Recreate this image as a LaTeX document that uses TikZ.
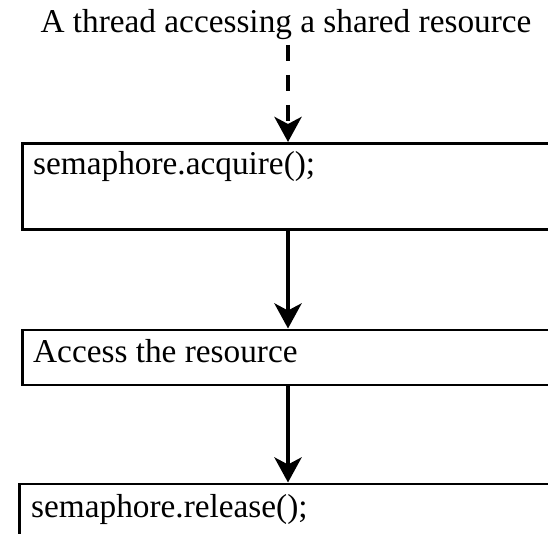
\documentclass[tikz,border=0pt]{standalone}
\usepackage{fontspec}
\setmainfont{Liberation Serif}
\usetikzlibrary{arrows.meta}
\begin{document}
\begin{tikzpicture}[x=1pt,y=-1pt,
  every node/.style={font=\fontsize{33.3pt}{40pt}\selectfont},
  stepbox/.style={draw, rectangle, line width=2.7pt, anchor=north west,
    inner sep=0pt, minimum width=620pt},
  steptext/.style={anchor=base west, inner sep=0pt},
  flow/.style={line width=4.5pt,
    -{Stealth[length=25pt, width=27pt, inset=7pt]}},
  startflow/.style={flow, dash pattern=on 16pt off 14pt}]
  \useasboundingbox (0,0) rectangle (548,534);
  \clip (0,0) rectangle (548,534);

  % caption at the top and the column the arrows run down
  \node[anchor=base, inner sep=0pt] (title) at (286,33)
    {A thread accessing a shared resource};
  \coordinate (col) at (288,45);

  % the three steps
  \node[stepbox, minimum height=86pt] (acq) at (21,142) {};
  \node[steptext] (acqtext) at (33,175) {semaphore.acquire();};

  \node[stepbox, minimum height=55pt] (use) at (21,328.5) {};
  \node[steptext] (usetext) at (33,362) {Access the resource};

  \node[stepbox, minimum height=80pt] (rel) at (18,482.5) {};
  \node[steptext] (reltext) at (31,517) {semaphore.release();};

  % connectors
  \draw[startflow] (col) -- (acq.north -| col);
  \draw[flow] (acq.south -| col) -- (use.north -| col);
  \draw[flow] (use.south -| col) -- (rel.north -| col);
\end{tikzpicture}
\end{document}
